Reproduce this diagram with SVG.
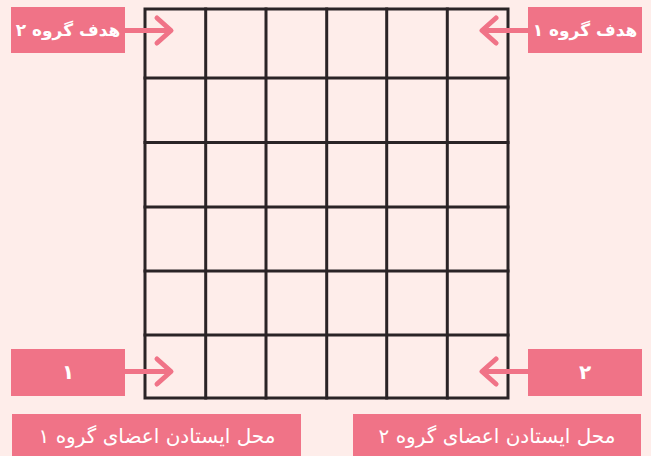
<svg xmlns="http://www.w3.org/2000/svg" width="651" height="456" viewBox="0 0 651 456">
<style>
.bg{fill:#feedea}
.box{fill:#f07387}
.grid{stroke:#2a2426;stroke-width:3;fill:none;stroke-linecap:square}
.t{fill:#ffffff;font-family:"DejaVu Sans",sans-serif;text-anchor:middle;direction:rtl}
.tb{font-weight:bold;font-size:17px}
.td{font-weight:bold;font-size:20px}
.tr{font-size:20px}
.arr{stroke:#f07387;stroke-width:5;fill:none;stroke-linecap:round;stroke-linejoin:round}
</style>
<rect class="bg" x="0" y="0" width="651" height="456"/>
<g id="grid">
<rect class="grid" x="145" y="9" width="363" height="389"/>
<path class="grid" d="M205.7 9V398M266 9V398M326.7 9V398M386.7 9V398M447.3 9V398M145 78H508M145 142.5H508M145 207H508M145 271H508M145 335H508"/>
</g>
<g id="goal2">
<rect class="box" x="11" y="7" width="114" height="46"/>
<text class="t tb" x="68" y="36">هدف گروه ۲</text>
</g>
<g id="goal1">
<rect class="box" x="528" y="7" width="114" height="46"/>
<text class="t tb" x="585" y="36">هدف گروه ۱</text>
</g>
<g id="start1">
<rect class="box" x="11" y="349" width="114" height="47"/>
<text class="t td" x="68" y="379">۱</text>
</g>
<g id="start2">
<rect class="box" x="528" y="349" width="114" height="47"/>
<text class="t td" x="585" y="379">۲</text>
</g>
<g id="label1">
<rect class="box" x="12" y="414" width="289" height="42"/>
<text class="t tr" x="157" y="443">محل ایستادن اعضای گروه ۱</text>
</g>
<g id="label2">
<rect class="box" x="353" y="414" width="288" height="42"/>
<text class="t tr" x="497" y="443">محل ایستادن اعضای گروه ۲</text>
</g>
<g id="connectors">
<path class="arr" d="M125 30.5H170M157 18L171 30.5L157 43"/>
<path class="arr" d="M528 30.5H483M496 18L482 30.5L496 43"/>
<path class="arr" d="M125 371.5H170M157 359L171 371.5L157 384"/>
<path class="arr" d="M528 371.5H483M496 359L482 371.5L496 384"/>
</g>
</svg>
